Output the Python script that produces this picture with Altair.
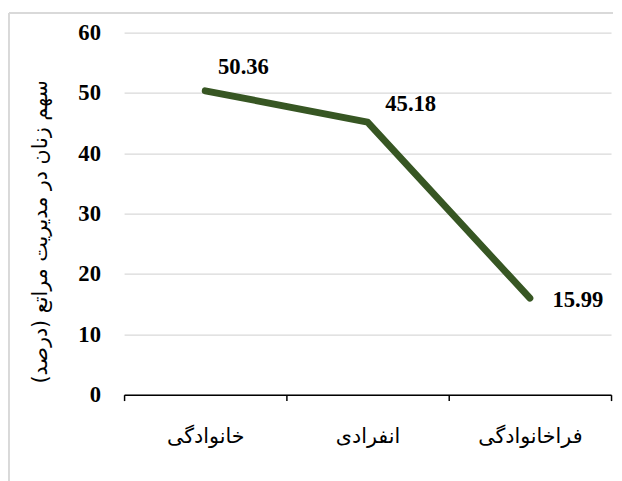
import altair as alt
import pandas as pd

categories = ["خانوادگی", "انفرادی", "فراخانوادگی"]
values = [50.36, 45.18, 15.99]
labels = ["50.36", "45.18", "15.99"]
y_ticks = [0, 10, 20, 30, 40, 50, 60]
y_title = "سهم زنان در مدیریت مراتع (درصد)"

df = pd.DataFrame({"category": categories, "value": values, "label": labels})

W, H = 495, 368
GREEN = "#375623"
GRAY = "#d9d9d9"
SERIF = "Liberation Serif, serif"

x_enc = alt.X(
    "category:N",
    sort=categories,
    bandPosition=0.5,
    scale=alt.Scale(type="band", paddingInner=0, paddingOuter=0),
    axis=alt.Axis(
        title=None,
        labelAngle=0,
        tickBand="extent",
        domainColor="black",
        tickColor="black",
        domainWidth=1.5,
        tickWidth=1.5,
        tickSize=6,
        labelFontSize=21,
        labelPadding=26,
        labelColor="black",
        labelFont="DejaVu Sans",
        grid=False,
    ),
)
y_enc = alt.Y(
    "value:Q",
    scale=alt.Scale(domain=[0, 60], nice=False),
    axis=alt.Axis(
        values=y_ticks,
        title=y_title,
        titleFontSize=21,
        titleFontWeight="normal",
        titleFont="DejaVu Sans",
        titleColor="black",
        titlePadding=28,
        titleY=H / 2 + 18,
        labelFont=SERIF,
        labelFontWeight="bold",
        labelFontSize=23,
        labelColor="black",
        labelPadding=24,
        domain=False,
        ticks=False,
        grid=True,
        gridColor=GRAY,
        gridWidth=1.2,
    ),
)

base = alt.Chart(df)
line = base.mark_line(color=GREEN, strokeWidth=7, strokeCap="round", strokeJoin="round").encode(x=x_enc, y=y_enc)

txt_style = dict(font=SERIF, fontSize=23, fontWeight="bold", color="black", align="left", baseline="middle")
t1 = base.transform_filter(alt.datum.category == categories[0]).mark_text(dx=13, dy=-24, **txt_style).encode(x=x_enc, y=y_enc, text="label:N")
t2 = base.transform_filter(alt.datum.category == categories[1]).mark_text(dx=18, dy=-18, **txt_style).encode(x=x_enc, y=y_enc, text="label:N")
t3 = base.transform_filter(alt.datum.category == categories[2]).mark_text(dx=23, dy=2, **txt_style).encode(x=x_enc, y=y_enc, text="label:N")

frame_df = pd.DataFrame({"k": [0]})
left_border = alt.Chart(frame_df).mark_rule(color=GRAY, strokeWidth=2).encode(
    x=alt.value(-117), y=alt.value(-20), y2=alt.value(470)
)
top_border = alt.Chart(frame_df).mark_rule(color=GRAY, strokeWidth=2).encode(
    x=alt.value(-117), x2=alt.value(497), y=alt.value(-20)
)

chart = alt.layer(line, t1, t2, t3, left_border, top_border).properties(
    width=W, height=H, padding=0
).configure_view(stroke=None)

chart.save("out.html", embed_options={"renderer": "svg", "actions": False})
